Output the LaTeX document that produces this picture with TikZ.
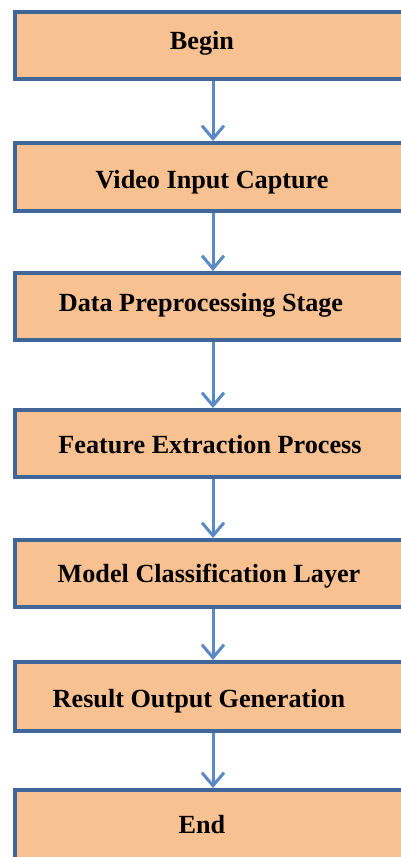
\documentclass[tikz,border=0pt]{standalone}
\usepackage{fontspec}
\setmainfont{Liberation Serif}
\usetikzlibrary{arrows.meta}
\definecolor{boxfill}{HTML}{F8C191}
\definecolor{boxline}{HTML}{41679A}
\definecolor{arrline}{HTML}{5A8AC6}
\tikzset{
  stepbox/.style={draw=boxline, line width=4pt, fill=boxfill, rectangle,
    anchor=north west, inner sep=0pt, outer sep=0pt, minimum width=420pt},
  lbl/.style={font=\bfseries\fontsize{26.2}{29}\selectfont, inner sep=0pt, text=black, anchor=base},
  flow/.style={draw=arrline, line width=3pt, shorten <=2pt, shorten >=2pt,
    -{Straight Barb[length=13pt,width=22pt,line width=3pt]}}
}
\begin{document}
\begin{tikzpicture}[x=1pt,y=-1pt]
\useasboundingbox (0,0) rectangle (401,857);
\clip (0,0) rectangle (401,857);
\node[stepbox, minimum height=67pt] (b1) at (15,12) {};
\node[stepbox, minimum height=68pt] (b2) at (15,143) {};
\node[stepbox, minimum height=67pt] (b3) at (15,273) {};
\node[stepbox, minimum height=67pt] (b4) at (15,410) {};
\node[stepbox, minimum height=67pt] (b5) at (15,540) {};
\node[stepbox, minimum height=69pt] (b6) at (15,662) {};
\node[stepbox, minimum height=90pt] (b7) at (15,790) {};
\node[lbl] (t1) at (202,49) {Begin};
\node[lbl] (t2) at (212,188) {Video Input Capture};
\node[lbl] (t3) at (201,311) {Data Preprocessing Stage};
\node[lbl] (t4) at (210,453) {Feature Extraction Process};
\node[lbl] (t5) at (209,582) {Model Classification Layer};
\node[lbl] (t6) at (199,707) {Result Output Generation};
\node[lbl] (t7) at (202,833) {End};
\coordinate (ax) at (213,0);
\draw[flow] (b1.south -| ax) -- (b2.north -| ax);
\draw[flow] (b2.south -| ax) -- (b3.north -| ax);
\draw[flow] (b3.south -| ax) -- (b4.north -| ax);
\draw[flow] (b4.south -| ax) -- (b5.north -| ax);
\draw[flow] (b5.south -| ax) -- (b6.north -| ax);
\draw[flow] (b6.south -| ax) -- (b7.north -| ax);
\end{tikzpicture}
\end{document}
